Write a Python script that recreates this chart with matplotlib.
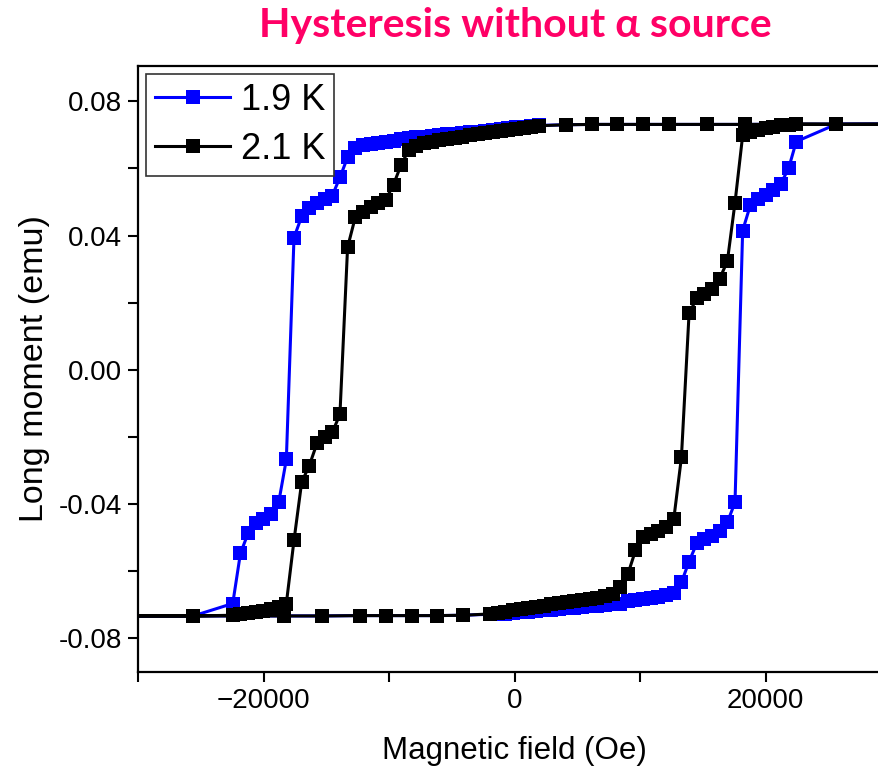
import numpy as np
import matplotlib
matplotlib.use("Agg")
import matplotlib.pyplot as plt
from matplotlib.ticker import MultipleLocator, FormatStrFormatter

plt.rcParams['font.family'] = ['Liberation Sans', 'DejaVu Sans']

# field sweep, +H -> -H
field_down = [35000, 25600, 18400, 15300, 12300, 10200, 8150, 6150, 4100,
              1950, 1340, 730, 120, -490, -1100, -1710, -2320, -2930, -3540,
              -4150, -4760, -5370, -5980, -6590, -7200, -7810, -8420, -9030,
              -9640, -10250, -10860, -11470, -12080, -12690, -13300, -13910,
              -14520, -15130, -15740, -16350, -16960, -17570, -18180, -18790,
              -19400, -20010, -20620, -21230, -21840, -22450, -25600, -35000]
# field sweep, -H -> +H
field_up = [-35000, -25600, -18400, -15300, -12300, -10200, -8150, -6150, -4100,
            -1950, -1340, -730, -120, 490, 1100, 1710, 2320, 2930, 3540,
            4150, 4760, 5370, 5980, 6590, 7200, 7810, 8420, 9030,
            9640, 10250, 10860, 11470, 12080, 12690, 13300, 13910,
            14520, 15130, 15740, 16350, 16960, 17570, 18180, 18790,
            19400, 20010, 20620, 21230, 21840, 22450, 25600, 35000]

# 1.9 K
m19_down = [0.0732, 0.0732, 0.0731, 0.0731, 0.0731, 0.0731, 0.0731, 0.0731, 0.0730,
            0.0728, 0.0726, 0.0724, 0.0722, 0.0719, 0.0716, 0.0713, 0.0711, 0.0709,
            0.0707, 0.0705, 0.0703, 0.0701, 0.0699, 0.0697, 0.0695, 0.0693, 0.0691,
            0.0689, 0.0683, 0.0680, 0.0676, 0.0672, 0.0669, 0.0660, 0.0633, 0.0573,
            0.0519, 0.0510, 0.0498, 0.0483, 0.0457, 0.0394, -0.0267, -0.0395,
            -0.0428, -0.0443, -0.0457, -0.0487, -0.0547, -0.0696, -0.0733, -0.0733]
m19_up = [-0.0733, -0.0733, -0.0733, -0.0733, -0.0732, -0.0732, -0.0732, -0.0732, -0.0731,
          -0.0728, -0.0727, -0.0726, -0.0724, -0.0722, -0.0720, -0.0718, -0.0716, -0.0714,
          -0.0712, -0.0710, -0.0708, -0.0706, -0.0704, -0.0702, -0.0700, -0.0698, -0.0696,
          -0.0690, -0.0686, -0.0683, -0.0680, -0.0676, -0.0671, -0.0664, -0.0633, -0.0571,
          -0.0517, -0.0505, -0.0496, -0.0481, -0.0454, -0.0395, 0.0415, 0.0490,
          0.0510, 0.0522, 0.0537, 0.0555, 0.0600, 0.0680, 0.0731, 0.0732]

# 2.1 K
m21_down = [0.0732, 0.0732, 0.0731, 0.0731, 0.0731, 0.0731, 0.0731, 0.0731, 0.0730,
            0.0727, 0.0724, 0.0720, 0.0716, 0.0713, 0.0710, 0.0707, 0.0704, 0.0701,
            0.0698, 0.0695, 0.0692, 0.0688, 0.0684, 0.0680, 0.0675, 0.0668, 0.0655,
            0.0611, 0.0552, 0.0507, 0.0496, 0.0484, 0.0471, 0.0454, 0.0365, -0.0133,
            -0.0186, -0.0201, -0.0219, -0.0285, -0.0335, -0.0508, -0.0696, -0.0705,
            -0.0711, -0.0717, -0.0722, -0.0725, -0.0728, -0.0731, -0.0733, -0.0733]
m21_up = [-0.0733, -0.0733, -0.0733, -0.0733, -0.0732, -0.0732, -0.0732, -0.0732, -0.0731,
          -0.0727, -0.0724, -0.0720, -0.0716, -0.0712, -0.0709, -0.0706, -0.0702, -0.0698,
          -0.0695, -0.0692, -0.0689, -0.0686, -0.0683, -0.0679, -0.0674, -0.0667, -0.0648,
          -0.0609, -0.0538, -0.0499, -0.0490, -0.0481, -0.0469, -0.0445, -0.0261, 0.0168,
          0.0213, 0.0225, 0.0242, 0.0272, 0.0323, 0.0498, 0.0698, 0.0707,
          0.0713, 0.0719, 0.0722, 0.0728, 0.0730, 0.0732, 0.0731, 0.0732]

labels = ['1.9 K', '2.1 K']
colors = ['#0000FF', '#000000']

fig = plt.figure(figsize=(8.79, 7.71), dpi=100)
ax = fig.add_axes([138 / 879, 99 / 771, 753 / 879, 606 / 771])

loops = [(m19_down, m19_up), (m21_down, m21_up)]
for (down, up), lab, col in zip(loops, labels, colors):
    H = np.array(field_down + field_up)
    M = np.array(down + up)
    ax.plot(H, M, '-s', color=col, lw=2.2, ms=9.4, mec=col, mew=0, label=lab)

ax.set_xlim(-30000, 30000)
ax.set_ylim(-0.09, 0.0905)
ax.xaxis.set_major_locator(MultipleLocator(20000))
ax.xaxis.set_minor_locator(MultipleLocator(10000))
ax.yaxis.set_major_locator(MultipleLocator(0.04))
ax.yaxis.set_minor_locator(MultipleLocator(0.02))
ax.yaxis.set_major_formatter(FormatStrFormatter('%.2f'))
ax.tick_params(which='both', direction='out', width=1.5, labelsize=20,
               top=False, right=False)
ax.tick_params(which='major', length=7.5, pad=4)
ax.tick_params(which='minor', length=7.5)
for s in ax.spines.values():
    s.set_linewidth(1.6)

ax.set_xlabel('Magnetic field (Oe)', fontsize=22.5, labelpad=16)
ax.set_ylabel('Long moment (emu)', fontsize=24.5, labelpad=6)

leg = ax.legend(loc='upper left', fontsize=26, handlelength=2.1, handletextpad=0.3,
                labelspacing=0.4, borderpad=0.24, borderaxespad=0.22,
                fancybox=False, framealpha=1)
leg.get_frame().set_edgecolor('#333333')
leg.get_frame().set_linewidth(1.2)

fig.text(515 / 879, 1 - 25 / 771, 'Hysteresis without α source',
         ha='center', va='center', fontsize=29.5, fontweight='bold',
         color='#FF0066', family=['Lato', 'DejaVu Sans'])

fig.savefig('out.png', dpi=100)
